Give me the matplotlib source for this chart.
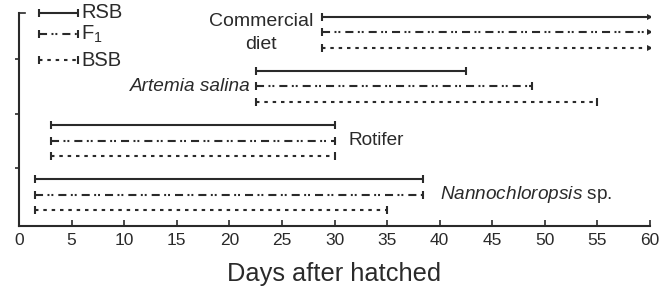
import matplotlib
matplotlib.use("Agg")
import matplotlib.pyplot as plt

plt.rcParams['font.family'] = ['Liberation Sans', 'DejaVu Sans']
plt.rcParams['mathtext.fontset'] = 'custom'
plt.rcParams['mathtext.rm'] = 'Liberation Sans'
plt.rcParams['mathtext.it'] = 'Liberation Sans:italic'
plt.rcParams['lines.scale_dashes'] = False

# feeding periods (days after hatched), per diet and strain
diets = ['Nannochloropsis sp.', 'Rotifer', 'Artemia salina', 'Commercial diet']
strains = ['RSB', 'F1', 'BSB']
start = {
    'Nannochloropsis sp.': [1.5, 1.5, 1.5],
    'Rotifer': [3, 3, 3],
    'Artemia salina': [22.5, 22.5, 22.5],
    'Commercial diet': [28.8, 28.8, 28.8],
}
end = {
    'Nannochloropsis sp.': [38.4, 38.4, 35],
    'Rotifer': [30, 30, 30],
    'Artemia salina': [42.5, 48.8, 55],
    'Commercial diet': [60, 60, 60],
}
ongoing = ['Commercial diet']

col = '#2a2a2a'
styles = {
    'RSB': '-',
    'F1': (0, (5.8, 3.2, 1.4, 1.4, 1.4, 3.6)),
    'BSB': (0, (2.5, 3.5)),
}

fig = plt.figure(figsize=(6.67, 2.94), dpi=100)
ax = fig.add_axes([19 / 667, 1 - 226 / 294, 631 / 667, 213 / 294])

pitch = 3.5
for g, diet in enumerate(diets):
    for k, s in enumerate(strains):
        y = g * pitch + 3 - k
        x0, x1 = start[diet][k], end[diet][k]
        ax.plot([x0, x1], [y, y], color=col, lw=1.5, ls=styles[s],
                solid_capstyle='butt', dash_capstyle='butt')
        ax.plot([x0], [y], marker='|', ms=5.5, mew=1.5, color=col)
        if diet in ongoing:
            ax.plot([x1], [y], marker='>', ms=4, color=col, mew=0)
        else:
            ax.plot([x1], [y], marker='|', ms=5.5, mew=1.5, color=col)

# diet labels
ax.text(23.0, 12.45, 'Commercial\ndiet', ha='center', va='center',
        fontsize=14, color=col, linespacing=1.4)
ax.text(22.0, 9, 'Artemia salina', ha='right', va='center', fontsize=13.7,
        color=col, style='italic')
ax.text(31.3, 5.5, 'Rotifer', ha='left', va='center', fontsize=13.7, color=col)
ax.text(40.0, 2, r'$\it{Nannochloropsis}$ sp.', ha='left', va='center',
        fontsize=13.7, color=col)

# legend
leg_y = [1.0, 0.90, 0.778]
leg_labels = ['RSB', r'F$_{\mathregular{1}}$', 'BSB']
for s, yy, lab in zip(strains, leg_y, leg_labels):
    yd = yy * 13.74
    ax.plot([1.9, 5.6], [yd, yd], color=col, lw=1.5, ls=styles[s],
            solid_capstyle='butt', clip_on=False)
    ax.plot([1.9, 5.6], [yd, yd], ls='none', marker='|', ms=5.5, mew=1.5,
            color=col, clip_on=False)
    ax.text(5.9, yd, lab, ha='left', va='center', fontsize=14.5, color=col)

ax.set_xlim(0, 60)
ax.set_ylim(0, 13.74)
ax.set_xticks(range(0, 61, 5))
ax.set_yticks([3.75, 7.25, 10.75])
ax.set_yticklabels([])
ax.tick_params(axis='x', direction='in', length=4.5, width=1.2, colors=col,
               labelsize=12.5, pad=5)
ax.tick_params(axis='y', direction='out', length=3, width=1.2, colors=col)
for side in ['top', 'right']:
    ax.spines[side].set_visible(False)
for side in ['left', 'bottom']:
    ax.spines[side].set_linewidth(1.5)
    ax.spines[side].set_color(col)
ax.plot([0, 0.6], [13.74, 13.74], color=col, lw=1.2, clip_on=False)
ax.set_xlabel('Days after hatched', fontsize=18.3, color=col, labelpad=10)

fig.savefig('out.png', dpi=100)
